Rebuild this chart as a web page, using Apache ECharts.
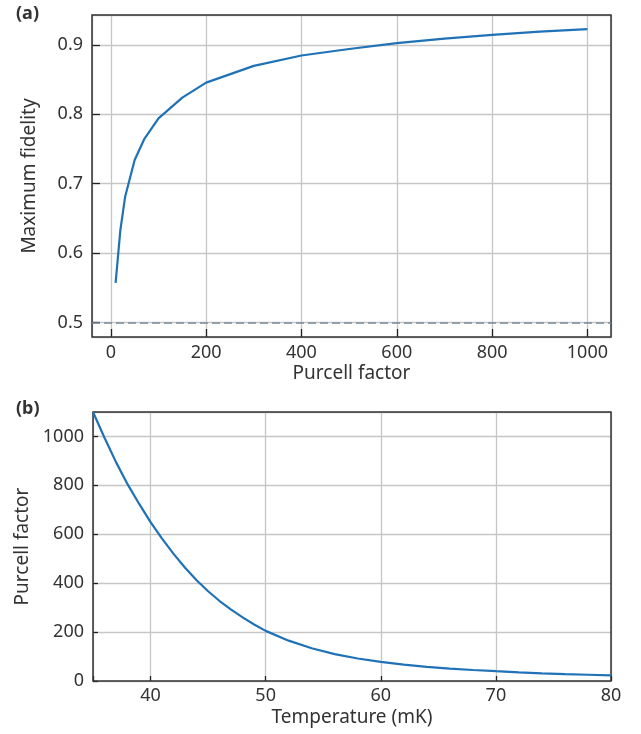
<!DOCTYPE html>
<html>
<head>
<meta charset="utf-8">
<script src="https://cdn.jsdelivr.net/npm/echarts@6/dist/echarts.min.js"></script>
<style>
html,body{margin:0;padding:0;background:#fff;}
#chart{width:641px;height:734px;}
</style>
</head>
<body>
<div id="chart"></div>
<script>
// Panel (a): maximum fidelity vs Purcell factor
const purcellA = [10, 20, 30, 50, 70, 100, 150, 200, 300, 400, 500, 600, 700, 800, 900, 1000];
const fidelityA = [0.557, 0.633, 0.681, 0.734, 0.764, 0.794, 0.824, 0.8456, 0.8697, 0.8846, 0.894, 0.9024, 0.909, 0.9144, 0.919, 0.9227];
const classicalLimit = 0.5;
const ticksAX = [0, 200, 400, 600, 800, 1000];
const ticksAY = [0.5, 0.6, 0.7, 0.8, 0.9];

// Panel (b): Purcell factor vs temperature
const temperatureB = [35, 36, 37, 38, 39, 40, 41, 42, 43, 44, 45, 46, 47, 48, 49, 50, 52, 54, 56, 58, 60, 62, 64, 66, 68, 70, 72, 74, 76, 78, 80];
const purcellB = [1100, 995, 895, 805, 725, 650, 582, 520, 463, 412, 367, 327, 292, 260, 231, 205, 165, 134, 110, 92, 78, 67, 58, 51, 45, 40, 35.5, 31.5, 28, 25.5, 23];
const ticksBX = [40, 50, 60, 70, 80];
const ticksBY = [0, 200, 400, 600, 800, 1000];

const FONT = 'Noto Sans';
const TXT = '#333';
const GRIDC = '#c6c6c6';
const LINEC = '#1f72b6';

function labelFmt(list, dec) {
  return function (v) {
    for (const t of list) { if (Math.abs(t - v) < 1e-9) return dec ? t.toFixed(dec) : String(t); }
    return '';
  };
}

const chart = echarts.init(document.getElementById('chart'), null, {renderer: 'canvas'});
const common = (tickLen) => ({
  axisLine: {show: false, onZero: false},
  axisTick: {show: true, inside: true, length: tickLen, lineStyle: {color: '#222', width: 1.3}},
  splitLine: {show: true, lineStyle: {color: GRIDC, width: 1.3}},
  nameTextStyle: {fontFamily: FONT, fontSize: 19, color: TXT},
  nameLocation: 'middle'
});

chart.setOption({
  animation: false,
  backgroundColor: '#fff',
  title: [
    {text: '(a)', left: 11, top: 0, textStyle: {fontFamily: FONT, fontSize: 18, fontWeight: 'bold', color: TXT}},
    {text: '(b)', left: 11, top: 395, textStyle: {fontFamily: FONT, fontSize: 18, fontWeight: 'bold', color: TXT}}
  ],
  grid: [
    {left: 92, top: 15, width: 519, height: 322, show: true, borderColor: '#333', borderWidth: 1.5, outerBoundsMode: 'none', z: 3},
    {left: 93, top: 412, width: 518, height: 269, show: true, borderColor: '#333', borderWidth: 1.5, outerBoundsMode: 'none', z: 3}
  ],
  xAxis: [
    Object.assign(common(8), {
      type: 'value', gridIndex: 0, min: -39.5, max: 1049.5, splitNumber: 5,
      name: 'Purcell factor', nameGap: 27,
      axisLabel: {margin: 7, fontFamily: FONT, fontSize: 18, color: TXT, formatter: labelFmt(ticksAX, 0), showMinLabel: false, showMaxLabel: false, hideOverlap: false}
    }),
    Object.assign(common(5), {
      type: 'value', gridIndex: 1, min: 35, max: 80, splitNumber: 5,
      name: 'Temperature (mK)', nameGap: 27,
      axisLabel: {margin: 6, fontFamily: FONT, fontSize: 18, color: TXT, formatter: labelFmt(ticksBX, 0), hideOverlap: false}
    })
  ],
  yAxis: [
    Object.assign(common(8), {
      type: 'value', gridIndex: 0, min: 0.479, max: 0.943, splitNumber: 5,
      name: 'Maximum fidelity', nameGap: 53,
      axisLabel: {margin: 9, fontFamily: FONT, fontSize: 18, color: TXT, formatter: labelFmt(ticksAY, 1), showMinLabel: false, showMaxLabel: false, hideOverlap: false}
    }),
    Object.assign(common(5), {
      type: 'value', gridIndex: 1, min: 0, max: 1100, splitNumber: 5,
      name: 'Purcell factor', nameGap: 53,
      axisLabel: {margin: 9, fontFamily: FONT, fontSize: 18, color: TXT, formatter: labelFmt(ticksBY, 0), showMaxLabel: false, hideOverlap: false}
    })
  ],
  series: [
    {
      type: 'line', xAxisIndex: 0, yAxisIndex: 0,
      data: purcellA.map((x, i) => [x, fidelityA[i]]),
      showSymbol: false, smooth: false,
      lineStyle: {color: LINEC, width: 2.2},
      markLine: {
        silent: true, symbol: ['none', 'none'], label: {show: false},
        lineStyle: {color: '#7d8b99', type: [8, 4], width: 1.5},
        data: [{yAxis: classicalLimit}]
      },
      z: 4
    },
    {
      type: 'line', xAxisIndex: 1, yAxisIndex: 1,
      data: temperatureB.map((x, i) => [x, purcellB[i]]),
      showSymbol: false, smooth: false,
      lineStyle: {color: LINEC, width: 2.2},
      z: 4
    }
  ]
});
</script>
</body>
</html>
